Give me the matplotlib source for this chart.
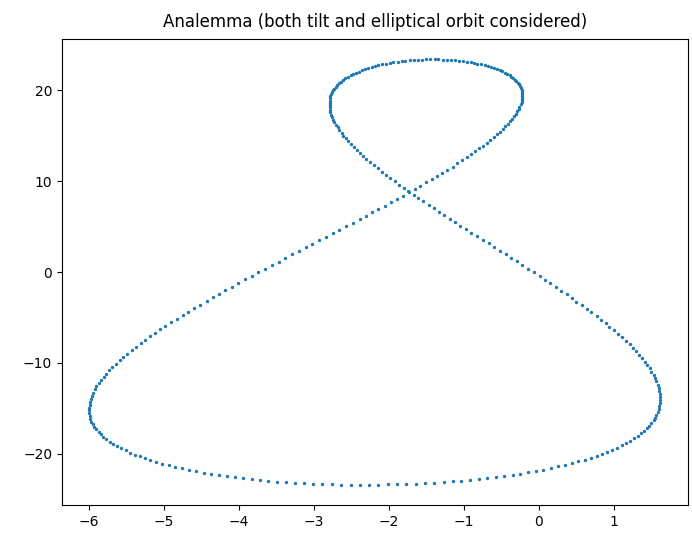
import matplotlib

matplotlib.use("Agg")
import matplotlib.pyplot as plt
import numpy as np

# one dot per day, x = solar hour offset (deg), y = declination (deg)
# March equinox -> June solstice
spring_x = [-0.22, -0.29, -0.37, -0.44, -0.52, -0.60, -0.67, -0.75, -0.82, -0.90,
            -0.97, -1.05, -1.12, -1.19, -1.26, -1.33, -1.40, -1.47, -1.54, -1.61,
            -1.67, -1.74, -1.80, -1.86, -1.92, -1.98, -2.04, -2.09, -2.15, -2.20,
            -2.25, -2.30, -2.34, -2.39, -2.43, -2.47, -2.51, -2.54, -2.57, -2.61,
            -2.63, -2.66, -2.68, -2.71, -2.73, -2.74, -2.76, -2.77, -2.78, -2.79,
            -2.79, -2.79, -2.79, -2.79, -2.79, -2.78, -2.77, -2.76, -2.74, -2.73,
            -2.71, -2.69, -2.66, -2.64, -2.61, -2.58, -2.55, -2.51, -2.48, -2.44,
            -2.40, -2.36, -2.32, -2.28, -2.23, -2.19, -2.14, -2.09, -2.04, -1.99,
            -1.94, -1.88, -1.83, -1.78, -1.72, -1.67, -1.61, -1.56, -1.50, -1.45]
spring_y = [0.76, 1.16, 1.56, 1.96, 2.36, 2.75, 3.15, 3.55, 3.94, 4.33,
            4.72, 5.11, 5.50, 5.89, 6.27, 6.66, 7.04, 7.42, 7.79, 8.17,
            8.54, 8.91, 9.28, 9.64, 10.00, 10.36, 10.72, 11.07, 11.42, 11.77,
            12.11, 12.45, 12.79, 13.12, 13.45, 13.78, 14.10, 14.42, 14.73, 15.04,
            15.35, 15.65, 15.94, 16.23, 16.52, 16.80, 17.08, 17.35, 17.62, 17.88,
            18.14, 18.39, 18.64, 18.88, 19.12, 19.35, 19.57, 19.79, 20.01, 20.21,
            20.41, 20.61, 20.80, 20.98, 21.16, 21.33, 21.50, 21.66, 21.81, 21.95,
            22.09, 22.22, 22.35, 22.47, 22.58, 22.68, 22.78, 22.88, 22.96, 23.04,
            23.11, 23.17, 23.23, 23.28, 23.32, 23.36, 23.39, 23.41, 23.42, 23.43]

# June solstice -> September equinox
summer_x = [-1.39, -1.34, -1.28, -1.23, -1.17, -1.12, -1.07, -1.01, -0.96, -0.91,
            -0.86, -0.82, -0.77, -0.72, -0.68, -0.64, -0.60, -0.56, -0.52, -0.49,
            -0.45, -0.42, -0.39, -0.37, -0.34, -0.32, -0.30, -0.28, -0.26, -0.25,
            -0.24, -0.23, -0.23, -0.22, -0.22, -0.22, -0.23, -0.23, -0.24, -0.26,
            -0.27, -0.29, -0.31, -0.33, -0.36, -0.38, -0.41, -0.45, -0.48, -0.52,
            -0.56, -0.60, -0.65, -0.69, -0.74, -0.80, -0.85, -0.91, -0.96, -1.03,
            -1.09, -1.15, -1.22, -1.29, -1.36, -1.43, -1.50, -1.58, -1.65, -1.73,
            -1.81, -1.89, -1.97, -2.05, -2.14, -2.22, -2.31, -2.39, -2.48, -2.57,
            -2.66, -2.75, -2.84, -2.93, -3.02, -3.11, -3.20, -3.29, -3.38, -3.47]
summer_y = [23.43, 23.42, 23.41, 23.39, 23.36, 23.33, 23.29, 23.24, 23.18, 23.12,
            23.05, 22.97, 22.89, 22.80, 22.70, 22.60, 22.49, 22.37, 22.25, 22.12,
            21.98, 21.84, 21.69, 21.53, 21.37, 21.20, 21.02, 20.84, 20.66, 20.46,
            20.26, 20.06, 19.85, 19.63, 19.41, 19.19, 18.95, 18.71, 18.47, 18.22,
            17.97, 17.71, 17.45, 17.18, 16.91, 16.63, 16.35, 16.06, 15.77, 15.47,
            15.17, 14.87, 14.56, 14.25, 13.93, 13.62, 13.29, 12.96, 12.63, 12.30,
            11.96, 11.62, 11.28, 10.93, 10.58, 10.23, 9.88, 9.52, 9.16, 8.80,
            8.43, 8.06, 7.69, 7.32, 6.95, 6.57, 6.19, 5.81, 5.43, 5.05,
            4.66, 4.28, 3.89, 3.50, 3.11, 2.72, 2.33, 1.94, 1.55, 1.15]

# September equinox -> December solstice
autumn_x = [-3.56, -3.65, -3.74, -3.83, -3.92, -4.01, -4.09, -4.18, -4.27, -4.35,
            -4.43, -4.52, -4.60, -4.68, -4.75, -4.83, -4.90, -4.98, -5.05, -5.12,
            -5.18, -5.25, -5.31, -5.37, -5.43, -5.49, -5.54, -5.59, -5.64, -5.69,
            -5.73, -5.77, -5.80, -5.84, -5.87, -5.90, -5.92, -5.94, -5.96, -5.97,
            -5.99, -5.99, -6.00, -6.00, -6.00, -5.99, -5.98, -5.97, -5.95, -5.93,
            -5.90, -5.87, -5.84, -5.81, -5.77, -5.72, -5.68, -5.63, -5.57, -5.51,
            -5.45, -5.39, -5.32, -5.25, -5.18, -5.10, -5.02, -4.93, -4.85, -4.76,
            -4.66, -4.57, -4.47, -4.37, -4.27, -4.16, -4.05, -3.95, -3.83, -3.72,
            -3.61, -3.49, -3.37, -3.25, -3.13, -3.01, -2.89, -2.76, -2.64, -2.51]
autumn_y = [0.76, 0.36, -0.03, -0.43, -0.82, -1.22, -1.61, -2.01, -2.41, -2.80,
            -3.19, -3.59, -3.98, -4.37, -4.76, -5.16, -5.54, -5.93, -6.32, -6.71,
            -7.09, -7.47, -7.85, -8.23, -8.61, -8.99, -9.36, -9.73, -10.10, -10.46,
            -10.83, -11.19, -11.54, -11.90, -12.25, -12.60, -12.94, -13.28, -13.62, -13.95,
            -14.28, -14.61, -14.93, -15.25, -15.56, -15.87, -16.17, -16.48, -16.77, -17.06,
            -17.34, -17.62, -17.90, -18.17, -18.43, -18.69, -18.94, -19.19, -19.42, -19.66,
            -19.89, -20.11, -20.32, -20.53, -20.73, -20.93, -21.12, -21.30, -21.47, -21.64,
            -21.80, -21.96, -22.10, -22.24, -22.37, -22.50, -22.61, -22.72, -22.82, -22.92,
            -23.00, -23.08, -23.15, -23.21, -23.27, -23.32, -23.36, -23.39, -23.41, -23.42]

# December solstice -> March equinox
winter_x = [-2.39, -2.26, -2.14, -2.01, -1.89, -1.77, -1.64, -1.52, -1.40, -1.27,
            -1.15, -1.04, -0.92, -0.80, -0.69, -0.57, -0.46, -0.35, -0.25, -0.14,
            -0.04, 0.06, 0.16, 0.25, 0.35, 0.44, 0.52, 0.61, 0.69, 0.77,
            0.84, 0.91, 0.98, 1.04, 1.11, 1.16, 1.22, 1.27, 1.32, 1.36,
            1.40, 1.44, 1.47, 1.50, 1.53, 1.55, 1.57, 1.59, 1.60, 1.61,
            1.62, 1.62, 1.62, 1.62, 1.61, 1.60, 1.59, 1.57, 1.55, 1.53,
            1.50, 1.48, 1.44, 1.41, 1.38, 1.34, 1.30, 1.25, 1.21, 1.16,
            1.11, 1.06, 1.00, 0.94, 0.89, 0.83, 0.77, 0.70, 0.64, 0.57,
            0.50, 0.44, 0.37, 0.30, 0.23, 0.15, 0.08, 0.01, -0.07, -0.14]
winter_y = [-23.43, -23.43, -23.42, -23.40, -23.38, -23.35, -23.31, -23.26, -23.20, -23.14,
            -23.06, -22.98, -22.89, -22.80, -22.69, -22.58, -22.47, -22.34, -22.21, -22.06,
            -21.91, -21.76, -21.59, -21.42, -21.25, -21.06, -20.87, -20.67, -20.47, -20.25,
            -20.04, -19.81, -19.58, -19.34, -19.10, -18.85, -18.59, -18.33, -18.07, -17.79,
            -17.51, -17.23, -16.94, -16.65, -16.35, -16.05, -15.74, -15.42, -15.10, -14.78,
            -14.46, -14.12, -13.79, -13.45, -13.11, -12.76, -12.41, -12.06, -11.70, -11.34,
            -10.98, -10.61, -10.24, -9.87, -9.50, -9.12, -8.74, -8.36, -7.98, -7.59,
            -7.20, -6.82, -6.42, -6.03, -5.64, -5.24, -4.85, -4.45, -4.05, -3.65,
            -3.25, -2.85, -2.45, -2.05, -1.65, -1.25, -0.85, -0.44, -0.04, 0.36]


def main():
    x = np.concatenate([spring_x, summer_x, autumn_x, winter_x])
    y = np.concatenate([spring_y, summer_y, autumn_y, winter_y])

    fig = plt.figure(figsize=(6.92, 5.36), dpi=100)
    ax = fig.add_axes([0.0896, 0.0578, 0.9046, 0.8694])
    ax.scatter(x, y, s=2)
    ax.set_xlim(-6.36, 1.99)
    ax.set_ylim(-25.67, 25.67)
    ax.set_title("Analemma (both tilt and elliptical orbit considered)", pad=8.5)

    fig.savefig("out.png", dpi=100)


if __name__ == "__main__":
    main()
